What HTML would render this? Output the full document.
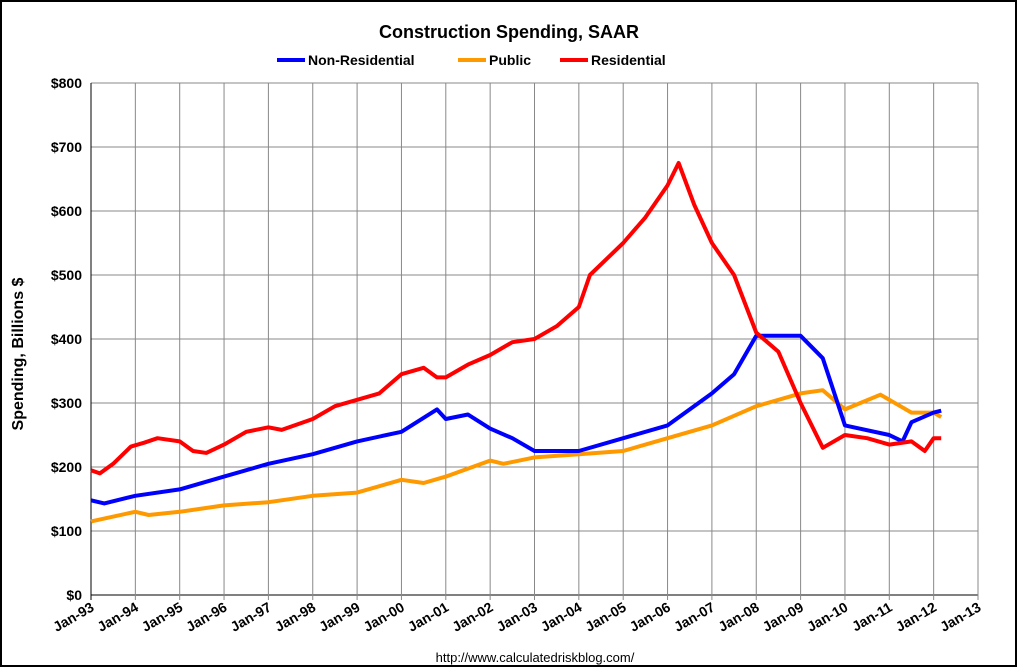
<!DOCTYPE html>
<html><head><meta charset="utf-8"><style>
body{margin:0;background:#fff}
svg{display:block;font-family:"Liberation Sans",Arial,sans-serif}
</style></head><body>
<svg id="c" width="1018" height="668">
<rect x="1" y="1" width="1015" height="665" fill="#fff" stroke="#000" stroke-width="2"/>
<text x="509" y="38" text-anchor="middle" font-size="18" font-weight="bold">Construction Spending, SAAR</text>
<g>
<line x1="277" y1="60" x2="305" y2="60" stroke="#0000ff" stroke-width="4"/>
<text x="308" y="65" font-size="14" font-weight="bold">Non-Residential</text>
<line x1="458" y1="60" x2="486" y2="60" stroke="#ff9900" stroke-width="4"/>
<text x="489" y="65" font-size="14" font-weight="bold">Public</text>
<line x1="560" y1="60" x2="588" y2="60" stroke="#ff0000" stroke-width="4"/>
<text x="591" y="65" font-size="14" font-weight="bold">Residential</text>
</g>
<text transform="translate(23,354) rotate(-90)" text-anchor="middle" font-size="16" font-weight="bold">Spending, Billions $</text>
<g id="grid"></g><g id="series"></g>
<text x="535" y="662" text-anchor="middle" font-size="13">http://www.calculatedriskblog.com/</text>
</svg>
<script>
const yTicks=[0,100,200,300,400,500,600,700,800];
const xYears=[93,94,95,96,97,98,99,0,1,2,3,4,5,6,7,8,9,10,11,12,13];
const resT=[0,0.2,0.5,0.9,1.2,1.5,2,2.3,2.6,3,3.5,4,4.3,5,5.5,6,6.5,7,7.5,7.8,8,8.5,9,9.5,10,10.5,11,11.25,12,12.5,13,13.25,13.6,14,14.5,15,15.5,16,16.5,17,17.5,18,18.5,18.8,19,19.17];
const resV=[195,190,205,232,238,245,240,225,222,235,255,262,258,275,295,305,315,345,355,340,340,360,375,395,400,420,450,500,550,590,640,675,610,550,500,410,380,300,230,250,245,235,240,225,245,245];
const nonT=[0,0.3,1,2,3,4,5,6,7,7.8,8,8.5,9,9.5,10,11,12,13,14,14.5,15,15.5,16,16.5,17,18,18.3,18.5,19,19.17];
const nonV=[148,143,155,165,185,205,220,240,255,290,275,282,260,245,225,225,245,265,315,345,405,405,405,370,265,250,240,270,285,288];
const pubT=[0,1,1.3,2,3,4,5,6,7,7.5,8,9,9.3,10,11,12,13,14,15,16,16.5,17,17.8,18.5,19,19.17];
const pubV=[115,130,125,130,140,145,155,160,180,175,185,210,205,215,220,225,245,265,295,315,320,290,313,285,285,278];
const X=t=>91+t*44.35, Y=v=>595-v*0.64;
const ns='http://www.w3.org/2000/svg';
const g=document.getElementById('grid'), s=document.getElementById('series');
function mk(tag,at,p){const e=document.createElementNS(ns,tag);for(const k in at)e.setAttribute(k,at[k]);p.appendChild(e);return e;}
yTicks.forEach(v=>{
 const l=mk('line',{x1:91,x2:978,y1:Y(v),y2:Y(v),stroke:v?'#888':'#000','stroke-width':1},g);
 
 
 const t=mk('text',{x:82,y:Y(v)+5,'text-anchor':'end','font-size':14,'font-weight':'bold'},g);t.textContent='$'+v;
 
 
});
xYears.forEach((yr,i)=>{
 const x=X(i);
 const l=mk('line',{x1:x,x2:x,y1:Y(800),y2:600,stroke:i?'#888':'#000','stroke-width':1},g);
 
 
 const t=mk('text',{transform:`translate(${x+4},${610}) rotate(-30)`,'text-anchor':'end','font-size':14,'font-weight':'bold'},g);
 t.textContent='Jan-'+String(yr).padStart(2,'0');
 
 
});
mk('line',{x1:978,x2:978,y1:Y(800),y2:Y(0),stroke:'#888'},g);
function line(T,V,c,name){
 const idx=T.map((t,i)=>i).sort((a,b)=>T[a]-T[b]);
 const p=mk('polyline',{points:idx.map(i=>X(T[i])+','+Y(V[i])).join(' '),fill:'none',stroke:c,'stroke-width':4,'stroke-linejoin':'round'},s);
 
 
}
line(pubT,pubV,'#ff9900','public-line');
line(nonT,nonV,'#0000ff','nonresidential-line');
line(resT,resV,'#ff0000','residential-line');
</script>
</body></html>
